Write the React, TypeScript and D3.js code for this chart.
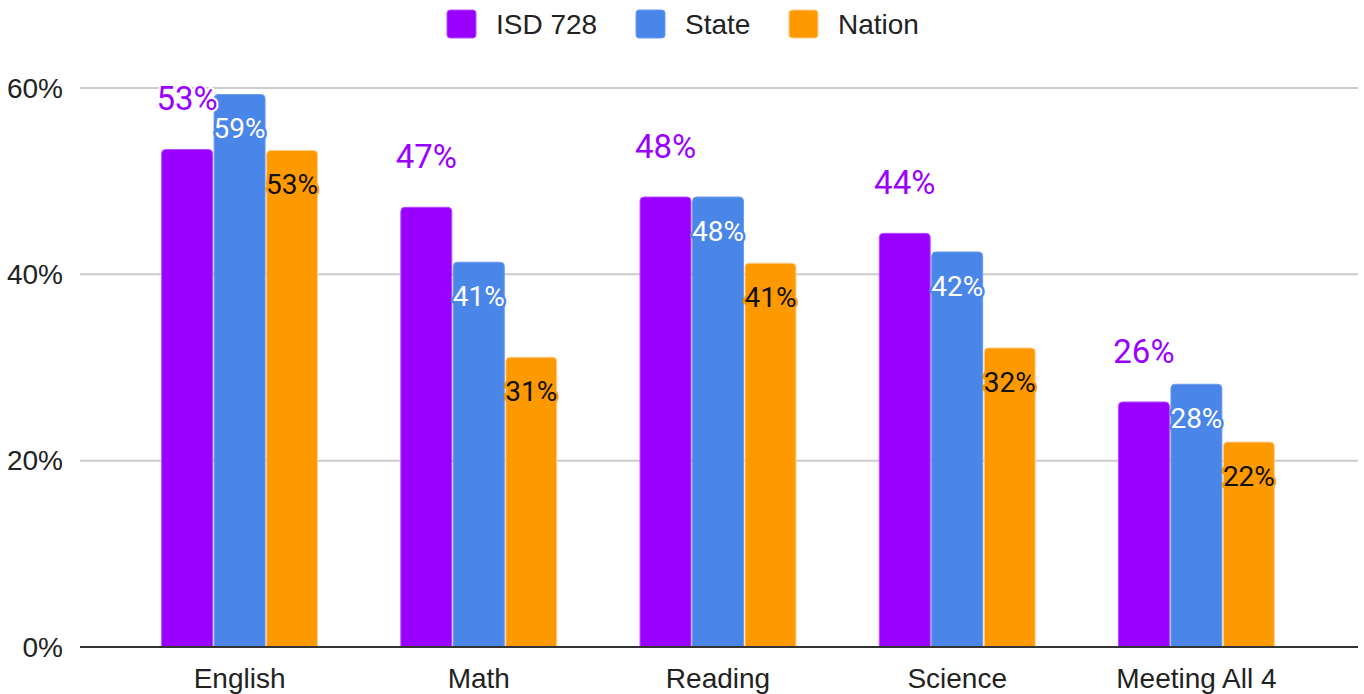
import React from 'react';
import * as d3 from 'd3';

const categories = ['English', 'Math', 'Reading', 'Science', 'Meeting All 4'];
const seriesNames = ['ISD 728', 'State', 'Nation'];
const isd728 = [53.4, 47.2, 48.3, 44.4, 26.3];
const state = [59.3, 41.3, 48.3, 42.4, 28.2];
const nation = [53.3, 31.1, 41.2, 32.1, 22.0];
const yTicks = [0, 20, 40, 60];

const colors = ['#9900ff', '#4a86e8', '#ff9900'];
const strokes = ['#b84dff', '#6a9cee', '#fccf94'];

const W = 1364;
const H = 694;
const font = 'Roboto, Arial, sans-serif';
const axisFont = '"Liberation Sans", Arial, sans-serif';

// rect with rounded top corners only
function topRounded(x: number, y: number, w: number, h: number, r: number) {
  return `M${x},${y + h}V${y + r}Q${x},${y} ${x + r},${y}H${x + w - r}Q${x + w},${y} ${x + w},${y + r}V${y + h}Z`;
}

export default function App() {
  const series = [isd728, state, nation];

  const x0 = d3.scaleBand().domain(categories).range([120, 1316]).paddingInner(0.344).paddingOuter(0.172);
  const x1 = d3.scaleBand().domain(seriesNames).range([0, x0.bandwidth()]).paddingInner(0.01);
  const y = d3.scaleLinear().domain([0, 60]).range([647, 88]);

  const gridLeft = 80;
  const gridRight = 1358;

  return (
    <div style={{ position: 'absolute', left: 0, top: 0 }}>
      <svg width={W} height={H} style={{ display: 'block', background: '#fff' }}>
        {/* grid */}
        {yTicks.filter(t => t > 0).map(t => (
          <line key={t} x1={gridLeft} x2={gridRight} y1={y(t)} y2={y(t)} stroke="#cccccc" strokeWidth={2} />
        ))}
        {yTicks.map(t => (
          <text key={'l' + t} x={63} y={y(t)} dy="0.35em" textAnchor="end" fontFamily={axisFont} fontSize={28} fill="#222">
            {t}%
          </text>
        ))}

        {/* bars */}
        {categories.map((c, i) => (
          <g key={c} transform={`translate(${x0(c)},0)`}>
            {series.map((s, j) => {
              const bx = x1(seriesNames[j]) as number;
              const bw = x1.bandwidth();
              const top = y(s[i]);
              return (
                <path
                  key={j}
                  d={topRounded(bx + 0.5, top, bw - 1, y(0) - top, 4)}
                  fill={colors[j]}
                  stroke={strokes[j]}
                  strokeWidth={1}
                />
              );
            })}
          </g>
        ))}

        {/* baseline */}
        <line x1={gridLeft} x2={gridRight} y1={y(0)} y2={y(0)} stroke="#333" strokeWidth={2} />

        {/* value labels */}
        {categories.map((c, i) => (
          <g key={'v' + c} transform={`translate(${x0(c)},0)`}>
            {series.map((s, j) => {
              const cx = (x1(seriesNames[j]) as number) + x1.bandwidth() / 2;
              const top = y(s[i]);
              const label = Math.round(s[i]) + '%';
              if (j === 0) {
                return (
                  <text key={j} x={cx} y={top - 51} dy="0.35em" textAnchor="middle" fontFamily={font} fontSize={33}
                    fill={colors[0]} stroke="#fff" strokeWidth={4} strokeLinejoin="round" style={{ paintOrder: 'stroke' }}>
                    {label}
                  </text>
                );
              }
              return (
                <text key={j} x={cx} y={top + 34} dy="0.35em" textAnchor="middle" fontFamily={font} fontSize={28}
                  fill={j === 1 ? '#fff' : '#111'} stroke={colors[j]} strokeWidth={5} strokeLinejoin="round"
                  style={{ paintOrder: 'stroke' }}>
                  {label}
                </text>
              );
            })}
          </g>
        ))}

        {/* x labels */}
        {categories.map(c => (
          <text key={'x' + c} x={(x0(c) as number) + x0.bandwidth() / 2} y={688} textAnchor="middle"
            fontFamily={axisFont} fontSize={28} fill="#222">
            {c}
          </text>
        ))}

        {/* legend */}
        {seriesNames.map((n, j) => {
          const lx = [447, 636, 789][j];
          return (
            <g key={n}>
              <rect x={lx} y={10} width={29} height={28} rx={3} fill={colors[j]} stroke={strokes[j]} strokeWidth={1} />
              <text x={lx + 49} y={24} dy="0.35em" fontFamily={axisFont} fontSize={28} fill="#222">{n}</text>
            </g>
          );
        })}
      </svg>
    </div>
  );
}
